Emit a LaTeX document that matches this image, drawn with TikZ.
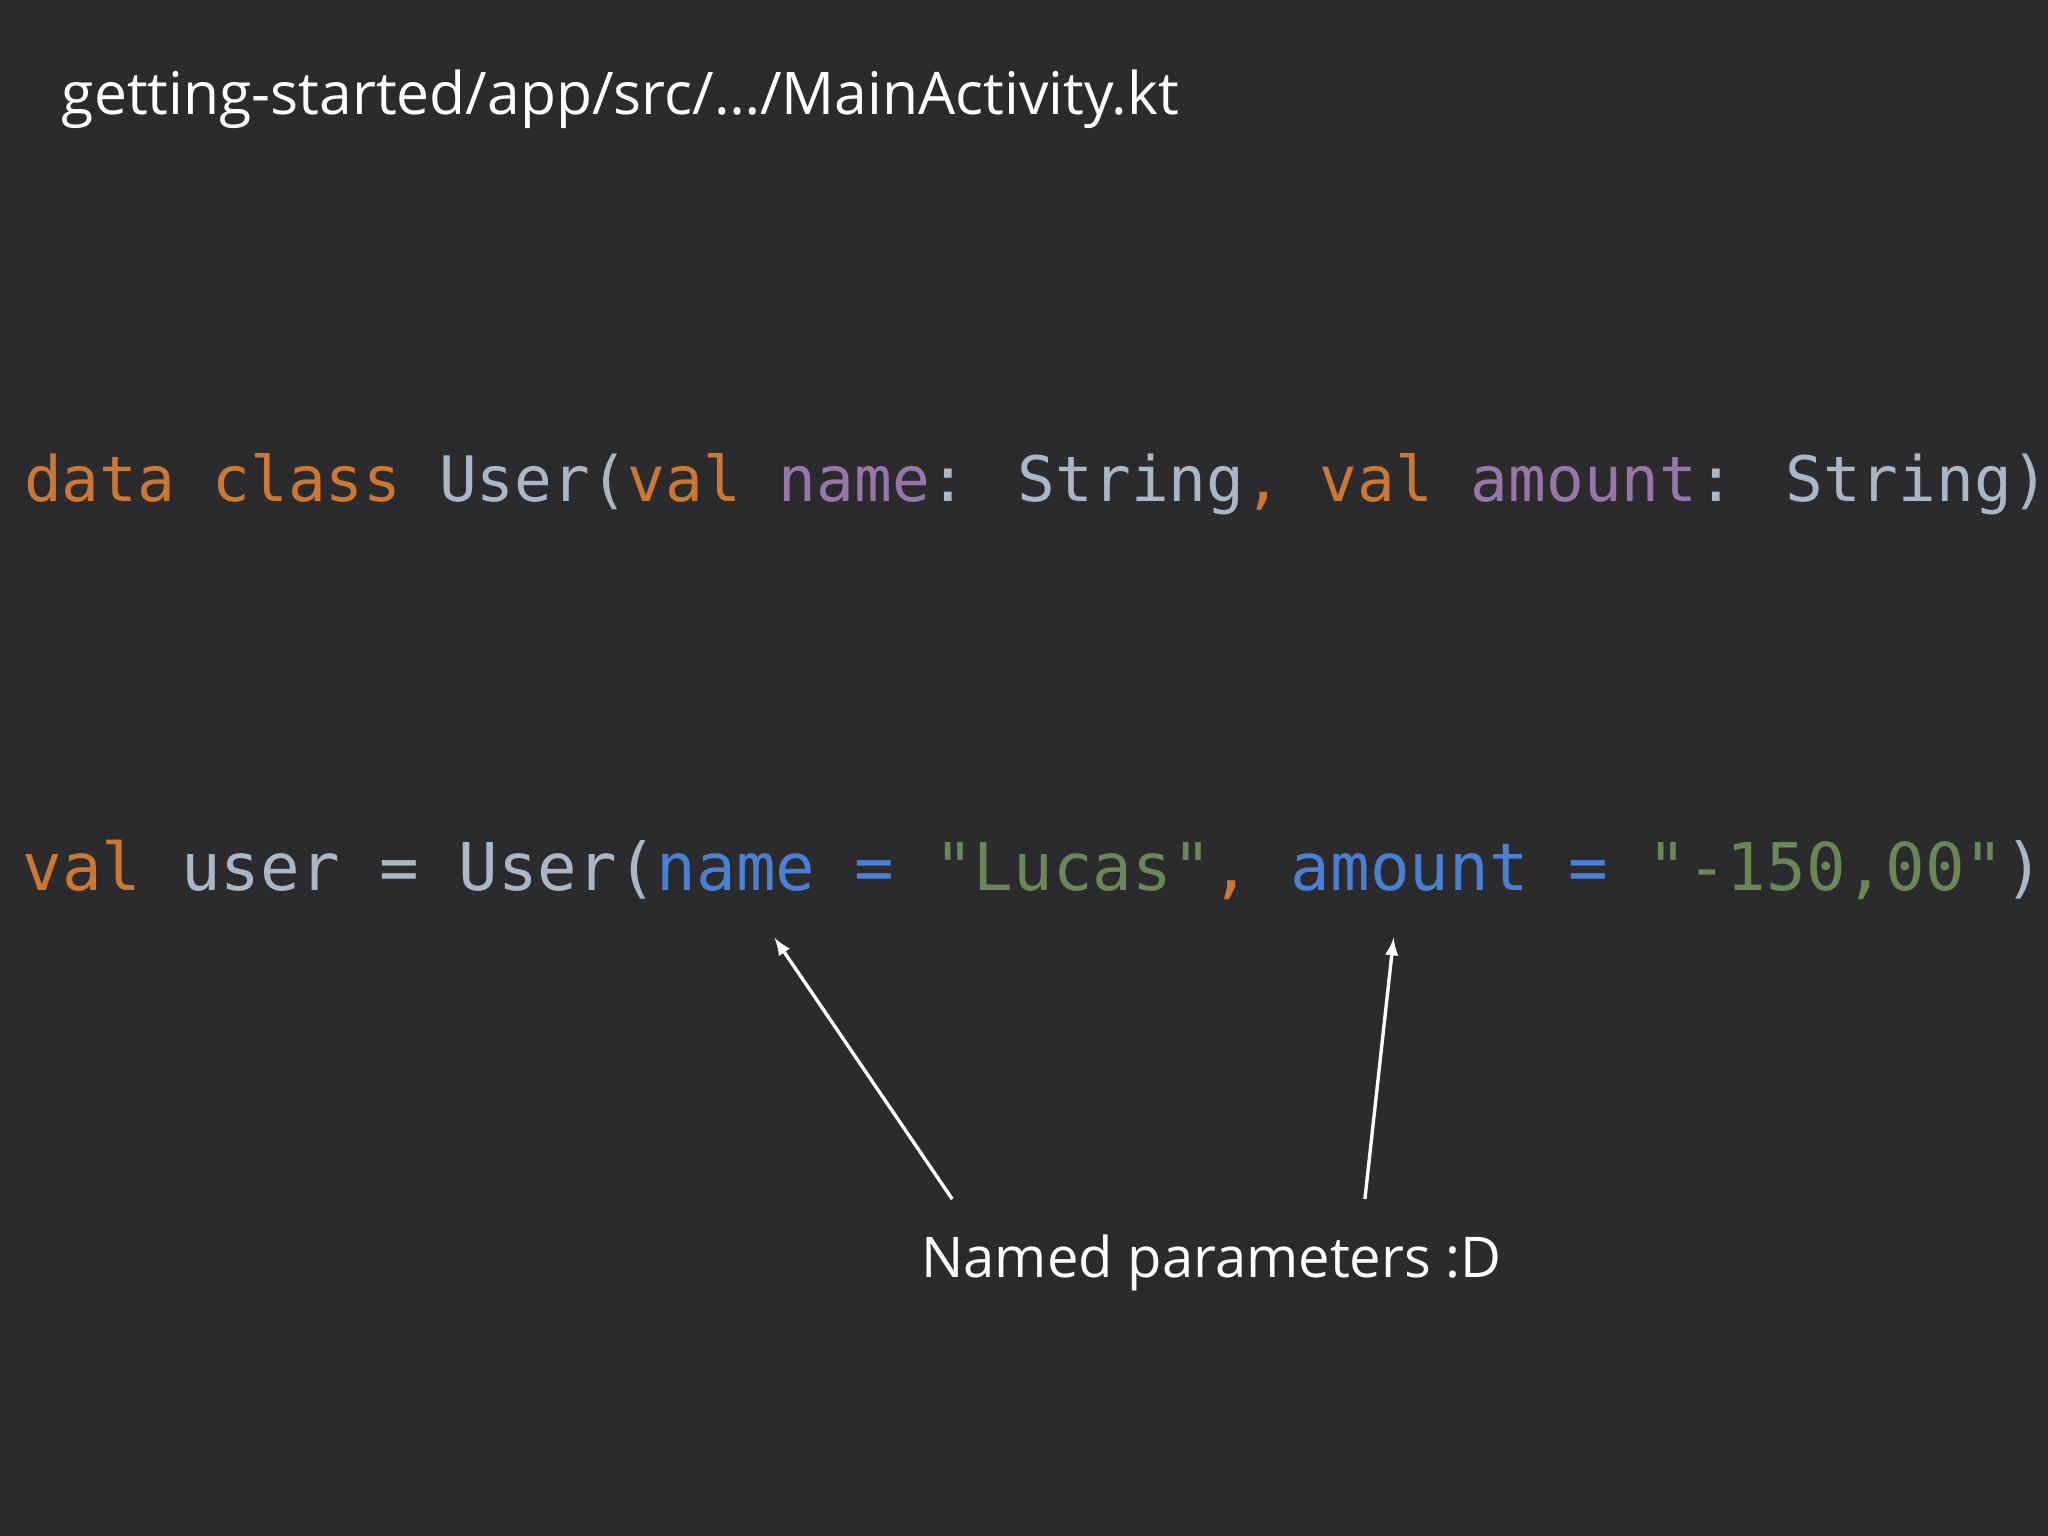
\documentclass[tikz,border=0pt]{standalone}
\usepackage{fontspec}
\setmainfont{Open Sans}
\newfontfamily\codefont{DejaVu Sans Mono}
\definecolor{bg}{HTML}{2B2B2D}
\definecolor{kw}{HTML}{CC7832}
\definecolor{pu}{HTML}{9876AA}
\definecolor{tx}{HTML}{A9B7C6}
\definecolor{bl}{HTML}{4A7FD6}
\definecolor{gr}{HTML}{6A8759}
\begin{document}
\begin{tikzpicture}[x=0.5pt,y=-0.5pt,
  code/.style={anchor=base west,inner sep=0pt,font=\codefont\fontsize{25.2pt}{30pt}\selectfont,text=tx},
  plain/.style={anchor=base west,inner sep=0pt,text=white,font=\fontsize{21.5pt}{26pt}\selectfont},
  arr/.style={white,line width=1.3pt,-latex}]
\fill[bg] (0,0) rectangle (1568,1176);
\useasboundingbox (0,0) rectangle (1568,1176);
\node[plain,font=\fontsize{22.5pt}{27pt}\selectfont] (title) at (47,88) {getting-started/app/src/…/MainActivity.kt};
\node[code,font=\codefont\fontsize{24pt}{29pt}\selectfont] (l1) at (18,384) {\textcolor{kw}{data class }User(\textcolor{kw}{val }\textcolor{pu}{name}: String\textcolor{kw}{, val }\textcolor{pu}{amount}: String)};
\node[code] (l2) at (17,682) {\textcolor{kw}{val }user = User(\textcolor{bl}{name = }\textcolor{gr}{"Lucas"}\textcolor{kw}{, }\textcolor{bl}{amount = }\textcolor{gr}{"-150,00"})};
\node[plain] (lab) at (705,978) {Named parameters :D};
\coordinate (t1) at (593,718);
\coordinate (t2) at (1067,718);
\coordinate (s1) at (729,918);
\coordinate (s2) at (1045,918);
\draw[arr] (s1) -- (t1);
\draw[arr] (s2) -- (t2);
\end{tikzpicture}
\end{document}
